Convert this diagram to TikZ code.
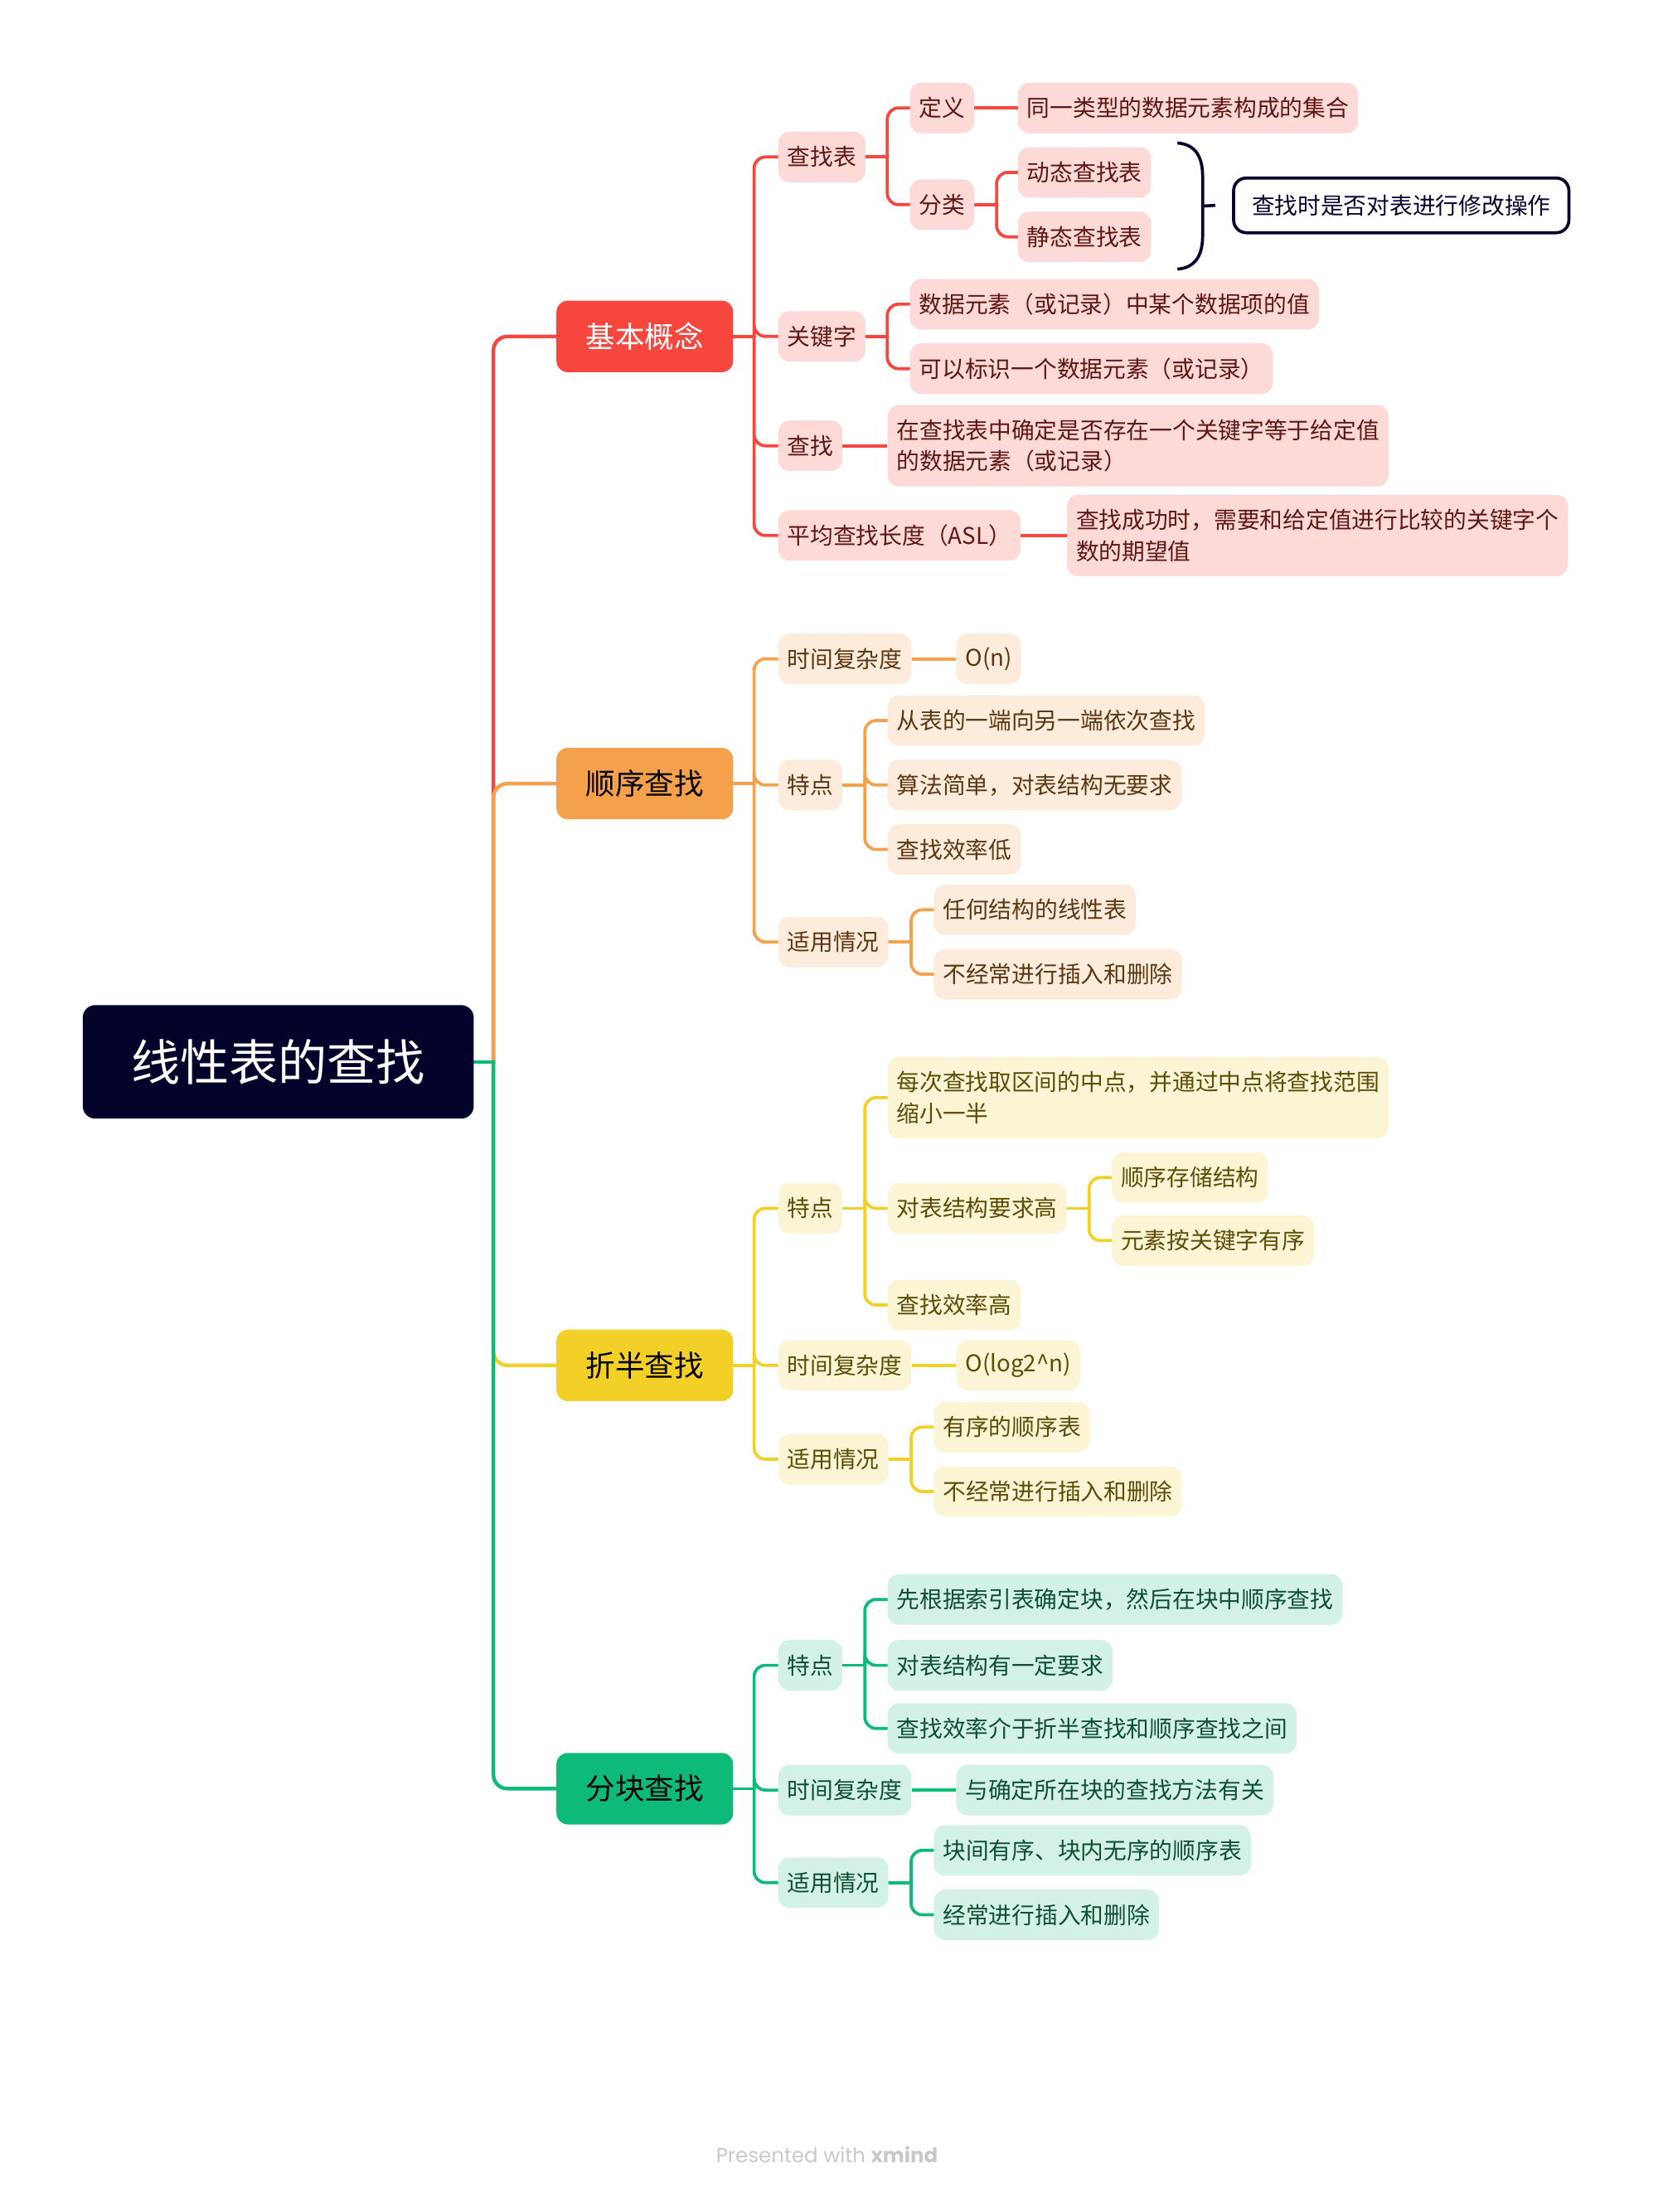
\documentclass[tikz,border=0pt]{standalone}
\usepackage{fontspec}
\setmainfont{Noto Sans CJK SC}
\newfontfamily\footfont{Poppins}
\usetikzlibrary{calc}
\pgfdeclarelayer{background}
\pgfsetlayers{background,main}
\definecolor{rootc}{HTML}{03022A}
\definecolor{navy}{HTML}{050530}
\definecolor{redm}{HTML}{F6463E}
\definecolor{redl}{HTML}{FDD9D8}
\definecolor{redt}{HTML}{5F1713}
\definecolor{orgm}{HTML}{F5A04B}
\definecolor{orgl}{HTML}{FDEBDC}
\definecolor{orgt}{HTML}{5C3712}
\definecolor{ylwm}{HTML}{F2D027}
\definecolor{ylwl}{HTML}{FCF5D5}
\definecolor{ylwt}{HTML}{5B4C06}
\definecolor{grnm}{HTML}{0DBA77}
\definecolor{grnl}{HTML}{D3F2E5}
\definecolor{grnt}{HTML}{0D4E35}
\definecolor{footc}{HTML}{C8C8C8}
\newcommand{\mmlink}[4]{%
  \begin{pgfonlayer}{background}
  \draw[line width=2.2pt,line cap=rect,#1] (#2.east) -- (#2.east -| #3);
  \draw[line width=2.2pt,line cap=rect,rounded corners=8pt,#1] (#2.east -| #3) |- (#4.west);
  \end{pgfonlayer}}
\newcommand{\mmstraight}[3]{%
  \begin{pgfonlayer}{background}
  \draw[line width=2.2pt,#1] (#2.east) -- (#3.west);
  \end{pgfonlayer}}
\newcommand{\mmroot}[2]{%
  \begin{pgfonlayer}{background}
  \draw[line width=2.6pt,line cap=rect,rounded corners=10pt,#1] (root.east -| T0) |- (#2.west);
  \end{pgfonlayer}}
\begin{document}
\begin{tikzpicture}[x=1pt,y=-1pt,
  rootbox/.style={fill=rootc,text=white,rounded corners=9pt,minimum width=279pt,minimum height=81pt,inner sep=0pt,font=\fontsize{35}{40}\selectfont},
  mainbox/.style={rounded corners=8pt,minimum width=126pt,minimum height=51pt,inner sep=0pt,font=\fontsize{21}{25}\selectfont},
  leaf/.style={rounded corners=8pt,minimum height=36pt,inner xsep=6.5pt,inner ysep=0pt,anchor=west,font=\fontsize{16.4}{22}\selectfont},
  leaftwo/.style={leaf,minimum height=58pt,align=left},
  rl/.style={leaf,fill=redl,text=redt},
  rltwo/.style={leaftwo,fill=redl,text=redt},
  ol/.style={leaf,fill=orgl,text=orgt},
  yl/.style={leaf,fill=ylwl,text=ylwt},
  yltwo/.style={leaftwo,fill=ylwl,text=ylwt},
  gl/.style={leaf,fill=grnl,text=grnt}]
\useasboundingbox (0,0) rectangle (1190,1578);

% root and main topics
\node[rootbox] (root) at (198.5,757.5) {线性表的查找};
\node[mainbox,fill=redm,text=white] (m1) at (460,240) {基本概念};
\node[mainbox,fill=orgm,text=black] (m2) at (460,559) {顺序查找};
\node[mainbox,fill=ylwm,text=black] (m3) at (460,974) {折半查找};
\node[mainbox,fill=grnm,text=black] (m4) at (460,1276) {分块查找};

% trunk coordinates
\coordinate (T0) at (352,0);
\coordinate (TM) at (538,0);
\coordinate (TA) at (633,0);
\coordinate (TB) at (711,0);
\coordinate (TD) at (650,0);
\coordinate (TE) at (777,0);
\coordinate (TI) at (617,0);

% ---- 基本概念 ----
\node[rl] (czb) at (555,112) {查找表};
\node[rl] (dy) at (649,77) {定义};
\node[rl] (fl) at (649,146) {分类};
\node[rl] (dyc) at (726,77) {同一类型的数据元素构成的集合};
\node[rl] (dt) at (726,123) {动态查找表};
\node[rl] (jt) at (726,169) {静态查找表};
\node[rl] (gjz) at (555,240) {关键字};
\node[rl] (k1) at (649,217) {数据元素（或记录）中某个数据项的值};
\node[rl] (k2) at (649,263) {可以标识一个数据元素（或记录）};
\node[rl] (cz) at (555,318) {查找};
\node[rltwo] (czc) at (633,318) {在查找表中确定是否存在一个关键字等于给定值\\的数据元素（或记录）};
\node[rl] (asl) at (555,382) {平均查找长度（ASL）};
\node[rltwo] (aslc) at (761,382) {查找成功时，需要和给定值进行比较的关键字个\\数的期望值};
\node[draw=navy,line width=2.2pt,fill=white,text=navy,rounded corners=9pt,minimum height=39pt,inner xsep=13pt,inner ysep=0pt,anchor=west,font=\fontsize{16.4}{22}\selectfont] (sum) at (879,146.5) {查找时是否对表进行修改操作};
\coordinate (braceTip) at (858,147);
\draw[navy,line width=2.2pt] (840,102) .. controls (853,103) and (858,112) .. (858,126) -- (858,168) .. controls (858,182) and (853,191) .. (840,192);
\draw[navy,line width=2.2pt] (braceTip) -- ($(sum.west)+(-12,0)$);

\mmlink{redm}{m1}{TM}{czb}
\mmlink{redm}{m1}{TM}{gjz}
\mmlink{redm}{m1}{TM}{cz}
\mmlink{redm}{m1}{TM}{asl}
\mmlink{redm}{czb}{TA}{dy}
\mmlink{redm}{czb}{TA}{fl}
\mmstraight{redm}{dy}{dyc}
\mmlink{redm}{fl}{TB}{dt}
\mmlink{redm}{fl}{TB}{jt}
\mmlink{redm}{gjz}{TA}{k1}
\mmlink{redm}{gjz}{TA}{k2}
\mmstraight{redm}{cz}{czc}
\mmstraight{redm}{asl}{aslc}

% ---- 顺序查找 ----
\node[ol] (tso) at (555,470) {时间复杂度};
\node[ol] (ono) at (682,470) {O(n)};
\node[ol] (tdo) at (555,560) {特点};
\node[ol] (o1) at (633,514) {从表的一端向另一端依次查找};
\node[ol] (o2) at (633,560) {算法简单，对表结构无要求};
\node[ol] (o3) at (633,606) {查找效率低};
\node[ol] (syo) at (555,672) {适用情况};
\node[ol] (o4) at (666,649) {任何结构的线性表};
\node[ol] (o5) at (666,695) {不经常进行插入和删除};

\mmlink{orgm}{m2}{TM}{tso}
\mmlink{orgm}{m2}{TM}{tdo}
\mmlink{orgm}{m2}{TM}{syo}
\mmstraight{orgm}{tso}{ono}
\mmlink{orgm}{tdo}{TI}{o1}
\mmlink{orgm}{tdo}{TI}{o2}
\mmlink{orgm}{tdo}{TI}{o3}
\mmlink{orgm}{syo}{TD}{o4}
\mmlink{orgm}{syo}{TD}{o5}

% ---- 折半查找 ----
\node[yl] (tdy) at (555,862) {特点};
\node[yltwo] (y1) at (633,783) {每次查找取区间的中点，并通过中点将查找范围\\缩小一半};
\node[yl] (y2) at (633,862) {对表结构要求高};
\node[yl] (y21) at (793,840) {顺序存储结构};
\node[yl] (y22) at (793,885) {元素按关键字有序};
\node[yl] (y3) at (633,931) {查找效率高};
\node[yl] (tsy) at (555,974) {时间复杂度};
\node[yl] (yn) at (682,974) {O(log2\textasciicircum n)};
\node[yl] (syy) at (555,1041) {适用情况};
\node[yl] (y4) at (666,1018) {有序的顺序表};
\node[yl] (y5) at (666,1064) {不经常进行插入和删除};

\mmlink{ylwm}{m3}{TM}{tdy}
\mmlink{ylwm}{m3}{TM}{tsy}
\mmlink{ylwm}{m3}{TM}{syy}
\mmlink{ylwm}{tdy}{TI}{y1}
\mmlink{ylwm}{tdy}{TI}{y2}
\mmlink{ylwm}{tdy}{TI}{y3}
\mmlink{ylwm}{y2}{TE}{y21}
\mmlink{ylwm}{y2}{TE}{y22}
\mmstraight{ylwm}{tsy}{yn}
\mmlink{ylwm}{syy}{TD}{y4}
\mmlink{ylwm}{syy}{TD}{y5}

% ---- 分块查找 ----
\node[gl] (tdg) at (555,1188) {特点};
\node[gl] (g1) at (633,1141) {先根据索引表确定块，然后在块中顺序查找};
\node[gl] (g2) at (633,1188) {对表结构有一定要求};
\node[gl] (g3) at (633,1233) {查找效率介于折半查找和顺序查找之间};
\node[gl] (tsg) at (555,1277) {时间复杂度};
\node[gl] (gn) at (682,1277) {与确定所在块的查找方法有关};
\node[gl] (syg) at (555,1343) {适用情况};
\node[gl] (g4) at (666,1320) {块间有序、块内无序的顺序表};
\node[gl] (g5) at (666,1366) {经常进行插入和删除};

\mmlink{grnm}{m4}{TM}{tdg}
\mmlink{grnm}{m4}{TM}{tsg}
\mmlink{grnm}{m4}{TM}{syg}
\mmlink{grnm}{tdg}{TI}{g1}
\mmlink{grnm}{tdg}{TI}{g2}
\mmlink{grnm}{tdg}{TI}{g3}
\mmstraight{grnm}{tsg}{gn}
\mmlink{grnm}{syg}{TD}{g4}
\mmlink{grnm}{syg}{TD}{g5}

% ---- root links ----
\begin{pgfonlayer}{background}
\draw[line width=2.6pt,line cap=rect,grnm] (root.east) -- (root.east -| T0);
\end{pgfonlayer}
\mmroot{redm}{m1}
\mmroot{orgm}{m2}
\mmroot{ylwm}{m3}
\mmroot{grnm}{m4}

% footer
\node[text=footc,font=\footfont\fontsize{14.5}{16}\selectfont] (foot) at (590,1537) {Presented with \textbf{xmind}};
\end{tikzpicture}
\end{document}
